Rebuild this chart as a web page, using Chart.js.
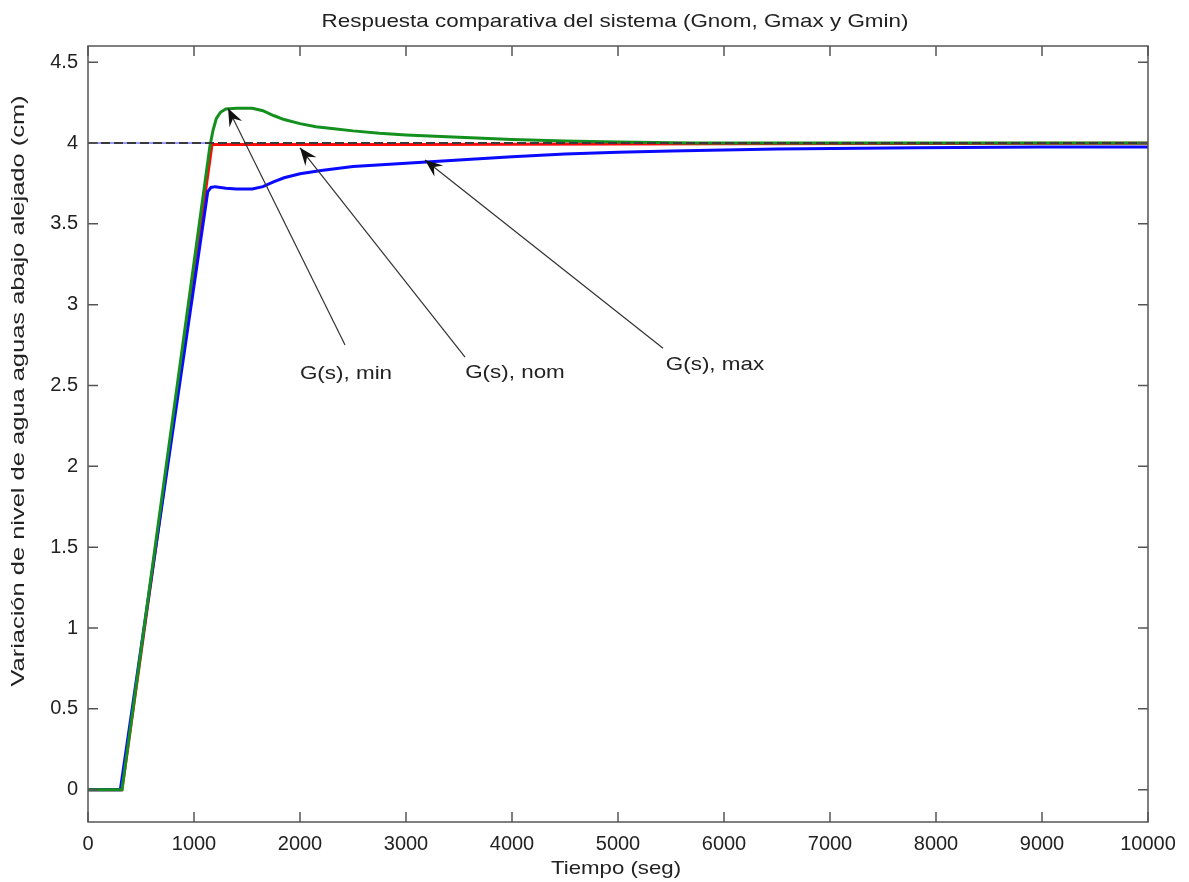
<!DOCTYPE html>
<html>
<head>
<meta charset="utf-8">
<title>Respuesta comparativa del sistema</title>
<script src="https://cdn.jsdelivr.net/npm/chart.js@4.4.1/dist/chart.umd.min.js"></script>
<style>
  body { margin: 0; background: #fff; }
  canvas { display: block; }
</style>
</head>
<body>
<canvas id="myChart" width="1189" height="882"></canvas>
<script>
// datos
var tiempoMin = [0, 320, 1150, 1180, 1210, 1250, 1300, 1400, 1550, 1650, 1750, 1850, 2000, 2150, 2300, 2500, 2750, 3000, 3500, 4000, 4500, 5000, 5700, 10000];
var nivelMin = [0, 0, 3.98, 4.08, 4.15, 4.19, 4.21, 4.215, 4.215, 4.2, 4.17, 4.145, 4.12, 4.1, 4.09, 4.075, 4.06, 4.05, 4.035, 4.022, 4.012, 4.006, 4.0, 4.0];

var tiempoNom = [0, 320, 1170, 1400, 3000, 6000, 10000];
var nivelNom = [0, 0, 3.99, 3.99, 3.99, 3.995, 3.998];

var tiempoMax = [0, 305, 1130, 1160, 1200, 1300, 1400, 1550, 1650, 1750, 1850, 2000, 2200, 2500, 3000, 3500, 4000, 4500, 5000, 5500, 6500, 7800, 9000, 10000];
var nivelMax = [0, 0, 3.70, 3.725, 3.73, 3.72, 3.715, 3.715, 3.73, 3.76, 3.785, 3.81, 3.83, 3.855, 3.875, 3.895, 3.915, 3.932, 3.943, 3.95, 3.963, 3.97, 3.975, 3.975];

// consigna (linea discontinua) y trazo azul fino bajo ella
var tiempoRef = [0, 10000];
var nivelRef = [4, 4];
var tiempoConsigna = [0, 1150];
var nivelConsigna = [4, 4];

var ticksX = [0, 1000, 2000, 3000, 4000, 5000, 6000, 7000, 8000, 9000, 10000];
var ticksY = [0, 0.5, 1, 1.5, 2, 2.5, 3, 3.5, 4, 4.5];

function pares(t, v) {
    return t.map(function (x, i) { return { x: x, y: v[i] }; });
}

var fuente = "'Liberation Sans', Arial, sans-serif";
var colorTexto = '#222';

// flechas con texto (G(s) min, nom, max)
var flechas = [
    { texto: 'G(s), min', punta: [1321, 4.215], cola: [2425, 2.75], pos: [2434, 2.575] },
    { texto: 'G(s), nom', punta: [2000, 3.97], cola: [3557, 2.675], pos: [4028, 2.58] },
    { texto: 'G(s), max', punta: [3179, 3.895], cola: [5425, 2.73], pos: [5915, 2.63] }
];

// texto estirado en horizontal (la figura original esta algo ensanchada)
function texto(ctx, s, x, y, estirar, rot) {
    ctx.save();
    ctx.translate(x, y);
    if (rot) ctx.rotate(rot);
    ctx.scale(estirar, 1);
    ctx.textAlign = 'center';
    ctx.textBaseline = 'middle';
    ctx.fillText(s, 0, 0);
    ctx.restore();
}

// caja y marcas hacia adentro, estilo matlab
var cajaPlugin = {
    id: 'caja',
    afterDatasetsDraw: function (chart) {
        var ctx = chart.ctx;
        var a = chart.chartArea;
        var sx = chart.scales.x, sy = chart.scales.y;
        var largo = 10;
        ctx.save();
        ctx.strokeStyle = '#555';
        ctx.lineWidth = 1.5;
        ctx.strokeRect(a.left, a.top, a.right - a.left, a.bottom - a.top);
        ctx.beginPath();
        ticksX.forEach(function (t) {
            var px = sx.getPixelForValue(t);
            ctx.moveTo(px, a.bottom); ctx.lineTo(px, a.bottom - largo);
            ctx.moveTo(px, a.top); ctx.lineTo(px, a.top + largo);
        });
        ticksY.forEach(function (v) {
            var py = sy.getPixelForValue(v);
            ctx.moveTo(a.left, py); ctx.lineTo(a.left + largo, py);
            ctx.moveTo(a.right, py); ctx.lineTo(a.right - largo, py);
        });
        ctx.stroke();

        // flechas
        ctx.font = '19px ' + fuente;
        flechas.forEach(function (f) {
            var x1 = sx.getPixelForValue(f.cola[0]), y1 = sy.getPixelForValue(f.cola[1]);
            var x2 = sx.getPixelForValue(f.punta[0]), y2 = sy.getPixelForValue(f.punta[1]);
            var ang = Math.atan2(y2 - y1, x2 - x1);
            ctx.strokeStyle = '#333';
            ctx.lineWidth = 1.2;
            ctx.beginPath();
            ctx.moveTo(x1, y1);
            ctx.lineTo(x2, y2);
            ctx.stroke();
            var L = 19, W = 0.38;
            ctx.fillStyle = '#111';
            ctx.beginPath();
            ctx.moveTo(x2, y2);
            ctx.lineTo(x2 - L * Math.cos(ang - W), y2 - L * Math.sin(ang - W));
            ctx.lineTo(x2 - L * 0.6 * Math.cos(ang), y2 - L * 0.6 * Math.sin(ang));
            ctx.lineTo(x2 - L * Math.cos(ang + W), y2 - L * Math.sin(ang + W));
            ctx.closePath();
            ctx.fill();
            ctx.fillStyle = colorTexto;
            texto(ctx, f.texto, sx.getPixelForValue(f.pos[0]), sy.getPixelForValue(f.pos[1]), 1.18);
        });

        // titulos
        ctx.fillStyle = colorTexto;
        ctx.font = '19px ' + fuente;
        texto(ctx, 'Respuesta comparativa del sistema (Gnom, Gmax y Gmin)', (a.left + a.right) / 2 - 3, 22, 1.18);
        texto(ctx, 'Tiempo (seg)', (a.left + a.right) / 2 - 2, 869, 1.17);
        texto(ctx, 'Variación de nivel de agua aguas abajo alejado (cm)', 19, 391, 1.34, -Math.PI / 2);
        ctx.restore();
    }
};

var fondoPlugin = {
    id: 'fondo',
    beforeDraw: function (chart) {
        var ctx = chart.ctx;
        ctx.save();
        ctx.fillStyle = '#fff';
        ctx.fillRect(0, 0, chart.width, chart.height);
        ctx.restore();
    }
};

var ctx = document.getElementById('myChart').getContext('2d');
var myChart = new Chart(ctx, {
    type: 'line',
    data: {
        datasets: [{
            label: 'Referencia',
            data: pares(tiempoRef, nivelRef),
            borderColor: '#3a3a3a',
            borderWidth: 2.2,
            borderDash: [9, 4]
        }, {
            label: 'Consigna',
            data: pares(tiempoConsigna, nivelConsigna),
            borderColor: '#3030ff',
            borderWidth: 1
        }, {
            label: 'G(s), min',
            data: pares(tiempoMin, nivelMin),
            borderColor: '#14901e',
            borderWidth: 3
        }, {
            label: 'G(s), max',
            data: pares(tiempoMax, nivelMax),
            borderColor: '#0a0aff',
            borderWidth: 3
        }, {
            label: 'G(s), nom',
            data: pares(tiempoNom, nivelNom),
            borderColor: '#ff0a0a',
            borderWidth: 3
        }]
    },
    options: {
        responsive: false,
        animation: false,
        parsing: false,
        elements: { point: { radius: 0 }, line: { tension: 0 } },
        layout: { padding: { left: 0, right: 41, top: 46, bottom: 0 } },
        plugins: {
            legend: { display: false },
            tooltip: { enabled: false },
            title: { display: false }
        },
        scales: {
            x: {
                type: 'linear',
                min: 0,
                max: 10000,
                afterBuildTicks: function (axis) {
                    axis.ticks = ticksX.map(function (v) { return { value: v }; });
                },
                afterFit: function (axis) { axis.height = 60; },
                grid: { display: false, drawTicks: false },
                border: { display: false },
                ticks: {
                    color: colorTexto,
                    padding: 10,
                    maxRotation: 0,
                    font: { family: fuente, size: 20 },
                    callback: function (v) { return String(v); }
                }
            },
            y: {
                type: 'linear',
                min: -0.2,
                max: 4.6,
                afterBuildTicks: function (axis) {
                    axis.ticks = ticksY.map(function (v) { return { value: v }; });
                },
                afterFit: function (axis) { axis.width = 88; },
                grid: { display: false, drawTicks: false },
                border: { display: false },
                ticks: {
                    color: colorTexto,
                    padding: 10,
                    font: { family: fuente, size: 20 },
                    callback: function (v) { return String(v); }
                }
            }
        }
    },
    plugins: [fondoPlugin, cajaPlugin]
});
</script>
</body>
</html>
